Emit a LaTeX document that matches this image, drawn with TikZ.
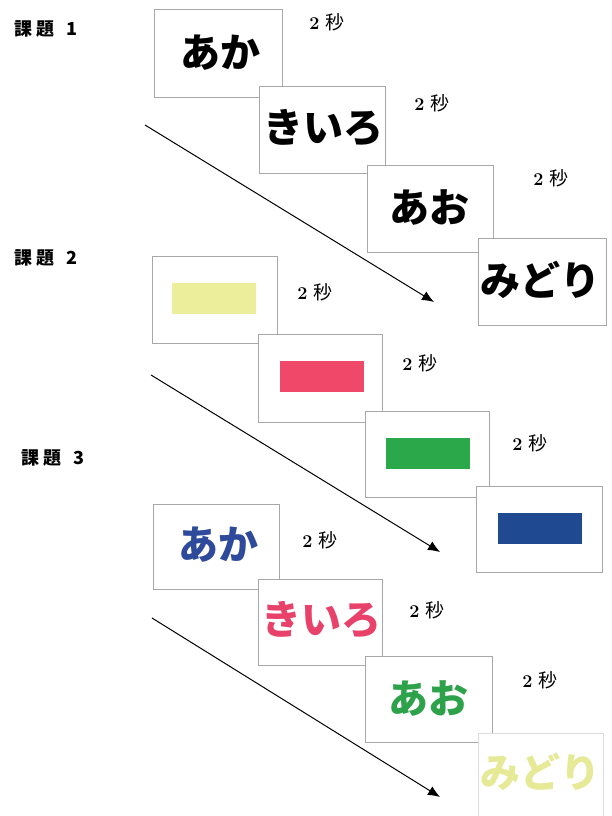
\documentclass[tikz,border=0pt]{standalone}
\usepackage{fontspec}
\newfontfamily\cjk{Noto Sans CJK JP}
\usetikzlibrary{arrows.meta}
\definecolor{cardline}{HTML}{A8A8A8}
\definecolor{pyellow}{HTML}{ECEE9C}
\definecolor{ppink}{HTML}{EF4868}
\definecolor{pgreen}{HTML}{2BA84A}
\definecolor{pblue}{HTML}{1F4A92}
\definecolor{tblue}{HTML}{2E4A9A}
\definecolor{tpink}{HTML}{E8416A}
\definecolor{tgreen}{HTML}{2EA24A}
\definecolor{tyellow}{HTML}{E6EA96}
\begin{document}
\begin{tikzpicture}[x=1pt,y=-1pt,
  card/.style={draw=cardline, line width=0.8pt, fill=white, inner sep=0pt},
  word/.style={inner sep=0pt, font=\cjk\bfseries\fontsize{40}{40}\selectfont},
  bar/.style={inner sep=0pt, minimum width=84pt, minimum height=31pt},
  sec/.style={inner sep=0pt, font=\fontsize{18}{18}\selectfont},
  tasklabel/.style={inner sep=0pt, anchor=west, font=\cjk\bfseries\fontsize{18}{18}\selectfont},
  flow/.style={line width=1pt, -{Latex[length=12pt,width=10pt]}}]
\useasboundingbox (0,0) rectangle (612,816);
\newcommand\byo{\textbf{2}\hspace{6pt}{\cjk\fontsize{19}{19}\selectfont 秒}}
% ---------- Task 1 ----------
\node[tasklabel] (t1) at (14,29) {課\hspace{4pt}題\hspace{12pt}1};
\node[card, minimum width=128pt, minimum height=88pt] (a1) at (218,53) {};
\node[word] (w1) at (220,53) {あか};
\node[card, minimum width=126pt, minimum height=87pt] (a2) at (322,129.5) {};
\node[word] (w2) at (323,128) {きいろ};
\node[card, minimum width=126pt, minimum height=87pt] (a3) at (430,208.5) {};
\node[word] (w3) at (429,208) {あお};
\node[card, minimum width=128pt, minimum height=87pt] (a4) at (542,281.5) {};
\node[word] (w4) at (540,280) {みどり};
\node[sec] (s1) at (327,22) {\byo};
\node[sec] (s2) at (432,103) {\byo};
\node[sec] (s3) at (551,178) {\byo};
\coordinate (f1) at (145,125);
\coordinate (e1) at (434,302);
\draw[flow] (f1) -- (e1);
% ---------- Task 2 ----------
\node[tasklabel] (t2) at (14,258) {課\hspace{4pt}題\hspace{12pt}2};
\node[card, minimum width=125pt, minimum height=87pt] (b1) at (214.5,299.5) {};
\node[bar, fill=pyellow] (r1) at (214,298.5) {};
\node[card, minimum width=124pt, minimum height=88pt] (b2) at (320,378) {};
\node[bar, fill=ppink] (r2) at (321.5,376.5) {};
\node[card, minimum width=124pt, minimum height=86pt] (b3) at (427,454) {};
\node[bar, fill=pgreen] (r3) at (427.5,453) {};
\node[card, minimum width=126pt, minimum height=86pt] (b4) at (539,529) {};
\node[bar, fill=pblue] (r4) at (539.5,528) {};
\node[sec] (s4) at (315,292) {\byo};
\node[sec] (s5) at (420,363) {\byo};
\node[sec] (s6) at (530,443) {\byo};
\coordinate (f2) at (151,375);
\coordinate (e2) at (440,552);
\draw[flow] (f2) -- (e2);
% ---------- Task 3 ----------
\node[tasklabel] (t3) at (21,458) {課\hspace{4pt}題\hspace{12pt}3};
\node[card, minimum width=126pt, minimum height=85pt] (c1) at (216,546.5) {};
\node[word, text=tblue] (v1) at (218,545) {あか};
\node[card, minimum width=124pt, minimum height=86pt] (c2) at (320,622) {};
\node[word, text=tpink] (v2) at (321,620) {きいろ};
\node[card, minimum width=127pt, minimum height=86pt] (c3) at (428.5,699) {};
\node[word, text=tgreen] (v3) at (428,699) {あお};
\node[card, draw=cardline!40, minimum width=125pt, minimum height=90pt] (c4) at (540.5,778) {};
\node[word, text=tyellow] (v4) at (540,772) {みどり};
\node[sec] (s7) at (320,540) {\byo};
\node[sec] (s8) at (427,610) {\byo};
\node[sec] (s9) at (540,680) {\byo};
\coordinate (f3) at (152,618);
\coordinate (e3) at (440,797);
\draw[flow] (f3) -- (e3);
\end{tikzpicture}
\end{document}
